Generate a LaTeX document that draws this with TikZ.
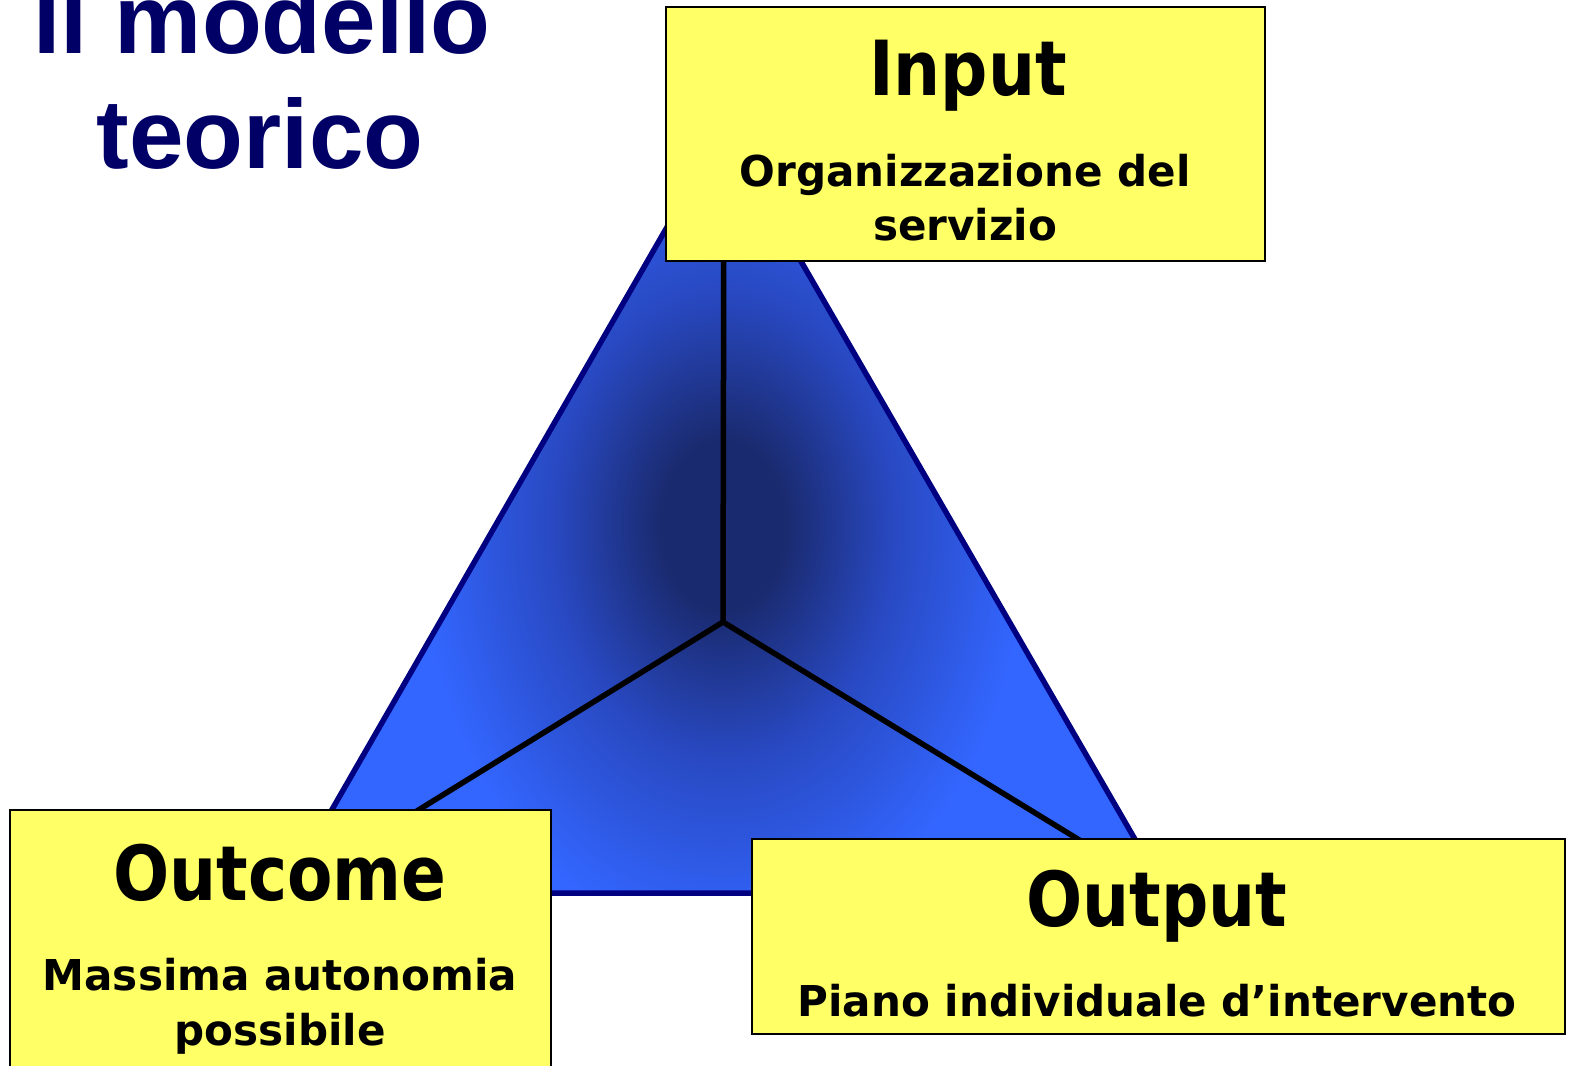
\documentclass[tikz,border=0pt]{standalone}
\usepackage{fontspec}
\newfontfamily\titlefont{Liberation Sans}
\newfontfamily\headfont{DejaVu Sans}[FakeStretch=0.87]
\newfontfamily\bodyfont{DejaVu Sans}[FakeStretch=0.99]
\definecolor{navy}{HTML}{000080}
\definecolor{titleblue}{HTML}{000066}
\definecolor{boxyellow}{HTML}{FFFF66}
\definecolor{triblue}{HTML}{3366FF}
\definecolor{midblue}{HTML}{2848C0}
\definecolor{darkblue}{HTML}{1A2A6E}
\pgfdeclareradialshading{trishade}{\pgfpoint{0bp}{0bp}}{color(0bp)=(darkblue); color(4bp)=(darkblue); color(11bp)=(midblue); color(20bp)=(triblue); color(50bp)=(triblue)}
\tikzset{
  yellowbox/.style={draw=black, line width=2pt, fill=boxyellow, inner sep=0pt, outer sep=0pt, rectangle},
  headtext/.style={anchor=base, inner sep=0pt, font=\headfont\bfseries\fontsize{76}{80}\selectfont},
  bodytext/.style={anchor=base, inner sep=0pt, font=\bodyfont\bfseries\fontsize{42.5}{48}\selectfont},
  titletext/.style={anchor=base, inner sep=0pt, text=titleblue, font=\titlefont\bfseries\fontsize{98}{110}\selectfont},
  innerline/.style={line width=5.5pt, black, line join=miter},
}
\begin{document}
\begin{tikzpicture}[x=1pt, y=-1pt]
\useasboundingbox (0,0) rectangle (1576,1065);
\fill[white] (0,0) rectangle (1576,1065);
% triangle
\coordinate (A) at (724,128);
\coordinate (B) at (284,893);
\coordinate (C) at (1166,893);
\coordinate (O) at (723,622);
\fill[triblue] (A) -- (B) -- (C) -- cycle;
\begin{scope}
  \clip (A) -- (B) -- (C) -- cycle;
  \shade[shading=trishade] (723,525) ellipse (380pt and 520pt);
\end{scope}
\draw[innerline] (O) -- (A);
\draw[innerline] (O) -- (B);
\draw[innerline] (O) -- (C);
\draw[navy, line width=5.5pt, line join=miter] (A) -- (B) -- (C) -- cycle;
% boxes
\node[yellowbox, minimum width=599pt, minimum height=254pt] (inbox) at (965.5,134) {};
\node[yellowbox, minimum width=541pt, minimum height=265pt] (outcomebox) at (280.5,942.5) {};
\node[yellowbox, minimum width=813pt, minimum height=195pt] (outputbox) at (1158.5,936.5) {};
% texts
\node[headtext] (inputtitle) at (968,95) {Input};
\node[bodytext] (inputl1) at (965,186) {Organizzazione del};
\node[bodytext] (inputl2) at (965,240) {servizio};
\node[headtext] (outcometitle) at (280,900) {Outcome};
\node[bodytext] (outcomel1) at (280,990) {Massima autonomia};
\node[bodytext] (outcomel2) at (280,1045) {possibile};
\node[headtext] (outputtitle) at (1157,926) {Output};
\node[bodytext] (outputl1) at (1157,1016) {Piano individuale d’intervento};
% title
\node[titletext] (title1) at (262,53) {Il modello};
\node[titletext] (title2) at (260,168) {teorico};
\end{tikzpicture}
\end{document}
